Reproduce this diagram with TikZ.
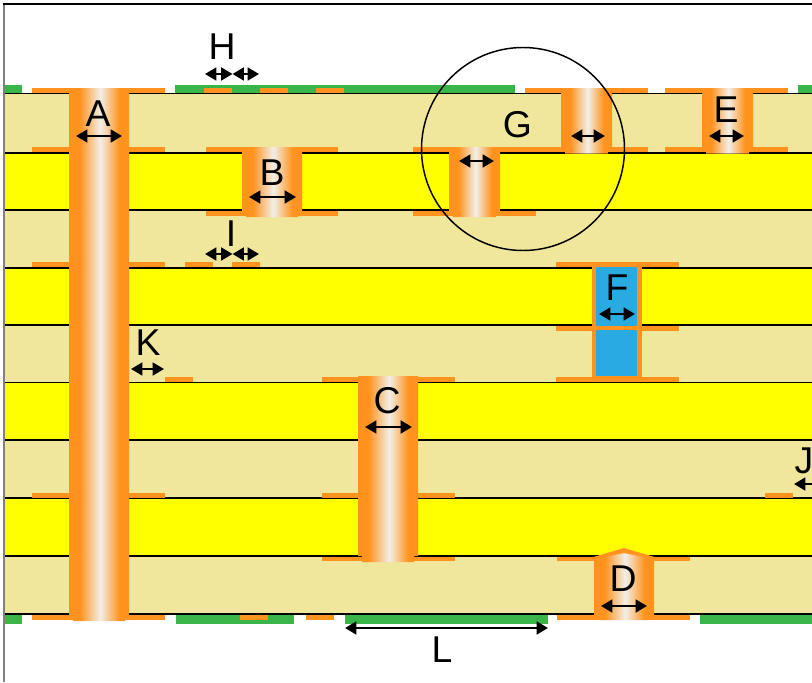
\documentclass[tikz,border=0pt]{standalone}
\usepackage{fontspec}
\setmainfont{Liberation Sans}
\usetikzlibrary{arrows.meta}

\definecolor{prepreg}{HTML}{F0E79C}
\definecolor{corecol}{HTML}{FFFF00}
\definecolor{copper}{HTML}{FF931E}
\definecolor{maskgreen}{HTML}{39B54A}
\definecolor{fillblue}{HTML}{29ABE2}
\definecolor{viawhite}{HTML}{F2EFE8}

\pgfdeclarehorizontalshading{viashade}{100bp}{color(0bp)=(copper); color(34bp)=(copper); color(51bp)=(viawhite); color(67bp)=(copper); color(100bp)=(copper)}

\tikzset{
  pad/.style={fill=copper},
  mask/.style={fill=maskgreen},
  via/.style={shading=viashade},
  layerline/.style={line width=1pt},
  dim/.style={{Triangle[length=8.5pt,width=9.5pt]}-{Triangle[length=8.5pt,width=9.5pt]},line width=2pt},
  lbl/.style={font=\fontsize{28}{28}\selectfont,inner sep=0pt},
}

% pad strip: x from, x to, y from, y to
\newcommand{\padstrip}[4]{\fill[pad] (#1,#3) rectangle (#2,#4);}
\newcommand{\maskstrip}[2]{\fill[mask] (#1,85) rectangle (#2,93);}
\newcommand{\maskstripb}[2]{\fill[mask] (#1,615) rectangle (#2,623.5);}
% via barrel: left, right, top, bottom; narrower tail below the last pad
\newcommand{\viabarrel}[4]{\shade[via] (#1,#3) -- (#2,#3) -- (#2,#4-6) -- (#2-4,#4-6) -- (#2-4,#4) -- (#1+4,#4) -- (#1+4,#4-6) -- (#1,#4-6) -- cycle;}

\begin{document}
\begin{tikzpicture}[x=0.75pt,y=-0.75pt]
\useasboundingbox (0,0) rectangle (812,682);

% board
\fill[white] (0,0) rectangle (812,682);
\foreach \ya/\yb in {93.5/153,210/268,325/382.5,440/498,556/614}
  \fill[prepreg] (4,\ya) rectangle (812,\yb);
\foreach \ya/\yb in {153/210,268/325,382.5/440,498/556}
  \fill[corecol] (4,\ya) rectangle (812,\yb);
\foreach \yy in {93.5,153,210,268,325,382.5,440,498,556,614}
  \draw[layerline] (4,\yy) -- (812,\yy);

% solder mask
\foreach \xa/\xb in {4/22,175/515,798/812} {\maskstrip{\xa}{\xb}}
\foreach \xa/\xb in {4/22,176/294,345/548,700/812} {\maskstripb{\xa}{\xb}}

% pads
\foreach \xa/\xb in {32/165,204/232,260/288,316/344,525/648,665/788}
  {\padstrip{\xa}{\xb}{88}{92.8}}
\foreach \xa/\xb in {32/165,206/338,413/536,525/648,665/788}
  {\padstrip{\xa}{\xb}{147}{152.3}}
\foreach \xa/\xb in {206/338,413/536}
  {\padstrip{\xa}{\xb}{210.5}{215.5}}
\foreach \xa/\xb in {32/165,185/213,232/260,556/679}
  {\padstrip{\xa}{\xb}{262}{267.3}}
\padstrip{556}{679}{325.5}{330.5}
\foreach \xa/\xb in {165/193,322/455,556/679}
  {\padstrip{\xa}{\xb}{376.5}{381.8}}
\foreach \xa/\xb in {32/165,322/455,765/793}
  {\padstrip{\xa}{\xb}{492.5}{497.5}}
\foreach \xa/\xb in {322/455,557/690}
  {\padstrip{\xa}{\xb}{556.5}{561}}
\foreach \xa/\xb in {32/165,240/268,306/334,557/690}
  {\padstrip{\xa}{\xb}{614.6}{620}}

% vias
\viabarrel{69}{129}{88}{621}
\viabarrel{242}{302}{147}{217}
\viabarrel{449}{500}{147}{217}
\viabarrel{561}{612}{88}{153.5}
\viabarrel{702}{753}{88}{153.5}
\viabarrel{358}{418}{376}{562}
\shade[via] (594,557) -- (624,548) -- (654,557) -- (654,615) -- (649,615) -- (649,620) -- (599,620) -- (599,615) -- (594,615) -- cycle;
\fill[copper] (594,557) -- (624,548) -- (654,557) -- (649,558) -- (624,553) -- (599,558) -- cycle;

% filled via
\fill[copper] (592,262) rectangle (642,382);
\fill[fillblue] (596,267) rectangle (637,326);
\fill[fillblue] (596,330) rectangle (637,376);

% detail circle
\draw[line width=1.1pt] (523,149) circle [radius=101.5];

% frame
\draw[line width=1.1pt,gray] (4,682) -- (4,4);
\draw[line width=1.1pt] (3,4) -- (812,4);

% sizes
\coordinate (aL) at (76,136);   \coordinate (aR) at (122,136);
\coordinate (bL) at (249,197);  \coordinate (bR) at (296,197);
\coordinate (cL) at (365,427);  \coordinate (cR) at (412,427);
\coordinate (dL) at (601,606);  \coordinate (dR) at (647,606);
\coordinate (eL) at (709,136);  \coordinate (eR) at (744,136);
\coordinate (fL) at (599,314);  \coordinate (fR) at (635,314);
\coordinate (gL) at (459,161);  \coordinate (gR) at (494,161);
\coordinate (g2L) at (571,136); \coordinate (g2R) at (605,136);
\coordinate (hL) at (205,74);   \coordinate (hM) at (232.5,74); \coordinate (hR) at (259,74);
\coordinate (iL) at (205,254);  \coordinate (iM) at (232.5,254); \coordinate (iR) at (259,254);
\coordinate (jL) at (794,484);  \coordinate (jR) at (830,484);
\coordinate (kL) at (131,369);  \coordinate (kR) at (164,369);
\coordinate (lL) at (345,628);  \coordinate (lR) at (548,628);
\foreach \na/\nb in {aL/aR,bL/bR,cL/cR,dL/dR,eL/eR,fL/fR,gL/gR,g2L/g2R,hL/hM,hM/hR,iL/iM,iM/iR,jL/jR,kL/kR,lL/lR}
  \draw[dim] (\na) -- (\nb);

% labels
\node[lbl] (labA) at (98,114) {A};
\node[lbl] (labB) at (272,173) {B};
\node[lbl] (labC) at (387,401) {C};
\node[lbl] (labD) at (623,579) {D};
\node[lbl] (labE) at (726,110) {E};
\node[lbl] (labF) at (617,288) {F};
\node[lbl] (labG) at (517.5,124.5) {G};
\node[lbl] (labH) at (222,47) {H};
\node[lbl] (labI) at (231,234) {I};
\node[lbl] (labJ) at (804,461) {J};
\node[lbl] (labK) at (148,343) {K};
\node[lbl] (labL) at (442,650) {L};

\end{tikzpicture}
\end{document}
